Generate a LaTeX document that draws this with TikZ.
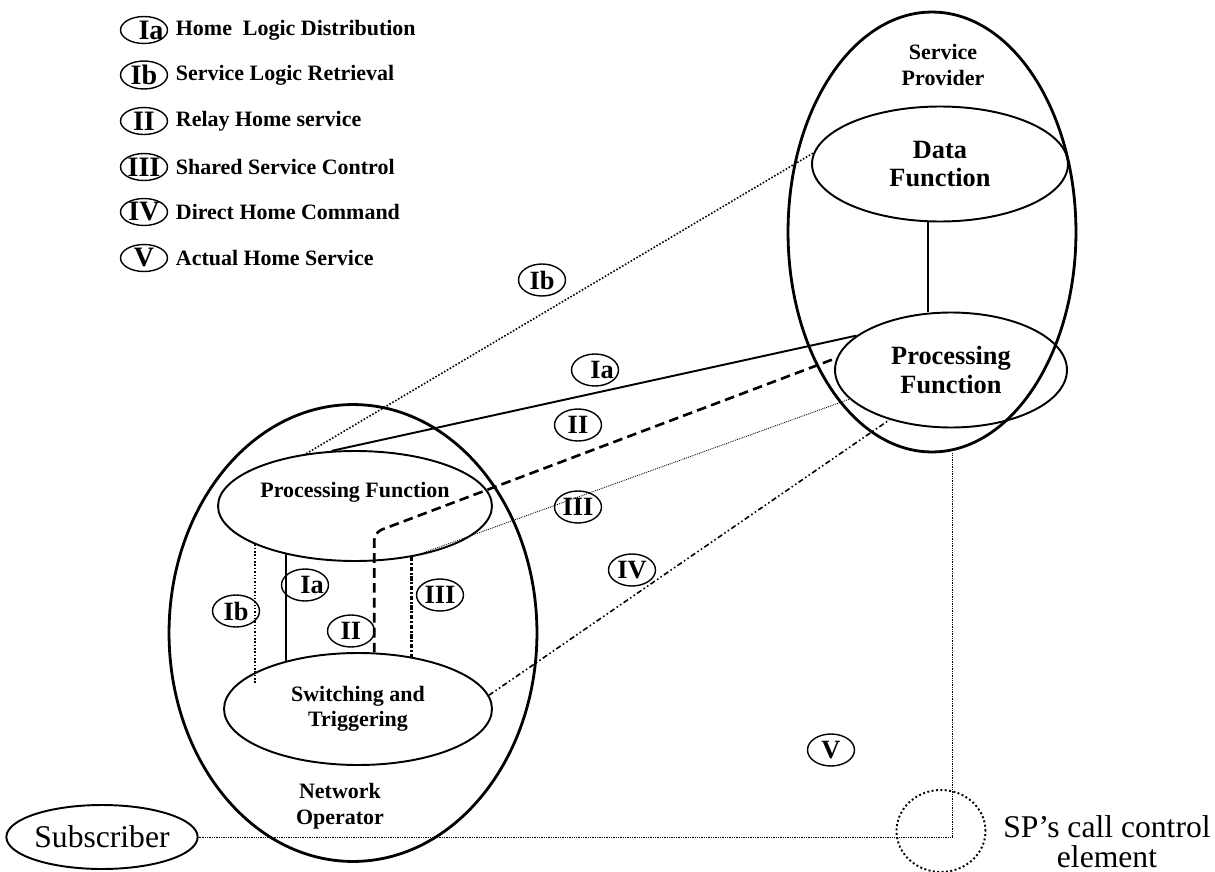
\documentclass[tikz,border=0pt]{standalone}
\usepackage{fontspec}
\setmainfont{Liberation Serif}
\usetikzlibrary{shapes.geometric, positioning}

\begin{document}
\begin{tikzpicture}
    [x=0.02cm, y=-0.02cm, thick,
    party/.style={draw, ellipse, line width=1.6pt, inner sep=0pt},
    func/.style={draw, ellipse, line width=1.1pt, inner sep=0pt, align=center,
    font=\fontsize{12.5}{14.5}\selectfont\bfseries},
    heading/.style={align=center, font=\fontsize{12.5}{15}\selectfont\bfseries}]
    % Styles for the tags, the legend and the different relations
    \tikzstyle{lbl} = [draw, ellipse, line width=0.8pt, inner sep=0pt, minimum width=0.94cm,
    minimum height=0.64cm, font=\fontsize{15}{16}\selectfont\bfseries]
    \tikzstyle{legtag} = [lbl, minimum height=0.54cm, font=\fontsize{16}{16}\selectfont\bfseries]
    \tikzstyle{legtext} = [inner sep=0pt, font=\fontsize{12.5}{14}\selectfont\bfseries]
    \tikzstyle{home} = [line width=1.1pt]
    \tikzstyle{retrieve} = [line width=0.9pt, dash pattern=on 0.9pt off 1pt]
    \tikzstyle{relay} = [line width=1.5pt, dash pattern=on 5.5pt off 3pt]
    \tikzstyle{shared} = [line width=0.5pt, dash pattern=on 0.5pt off 0.6pt]
    \tikzstyle{sharedv} = [line width=1.5pt, dash pattern=on 2.5pt off 1pt on 1pt off 1pt]
    \tikzstyle{direct} = [line width=0.9pt, dash pattern=on 3pt off 1.5pt on 0.9pt off 1.5pt on 0.9pt off 1.5pt]
    \tikzstyle{actual} = [line width=0.5pt, dash pattern=on 0.5pt off 0.5pt]
    % the "Ia" tags sit a little right of centre
    \newcommand{\iatext}{\makebox[0pt]{\hspace{0.28cm}Ia}}

    \useasboundingbox (0,0) rectangle (1215,872);

    % Legend
    \node [legtag] (la) at (144,30) {\iatext};
    \node [legtext, right=0.14cm of la] (lat) {Home~~Logic Distribution};
    \node [legtag] (lb) at (144,75) {Ib};
    \node [legtext, right=0.14cm of lb] (lbt) {Service Logic Retrieval};
    \node [legtag] (lii) at (144,121) {II};
    \node [legtext, right=0.14cm of lii] (liit) {Relay Home service};
    \node [legtag] (liii) at (144,167) {III};
    \node [legtext, right=0.14cm of liii] (liiit) {Shared Service Control};
    \node [legtag] (liv) at (144,212) {IV};
    \node [legtext, right=0.14cm of liv] (livt) {Direct Home Command};
    \node [legtag] (lv) at (144,258) {V};
    \node [legtext, right=0.14cm of lv] (lvt) {Actual Home Service};

    % Service provider side
    \node [party, minimum width=5.76cm, minimum height=8.8cm] (sp) at (932,232) {};
    \node [heading] (sptitle) at (943,65) {Service\\Provider};
    \node [func, minimum width=5.12cm, minimum height=2.3cm,
    font=\fontsize{15}{16}\selectfont\bfseries] (df) at (940,164) {Data\\Function};
    \node [func, minimum width=4.64cm, minimum height=2.3cm,
    font=\fontsize{15}{16}\selectfont\bfseries] (pfsp) at (951,370) {Processing\\Function};

    % Network operator side
    \node [party, minimum width=7.36cm, minimum height=9.14cm] (no) at (353,633) {};
    \node [func, minimum width=5.48cm, minimum height=2.2cm,
    label={[yshift=0.28cm, font=\fontsize{12.5}{14}\selectfont\bfseries]center:Processing Function}] (nopf) at (355,506) {};
    \node [func, minimum width=5.36cm, minimum height=2.24cm] (sat) at (358,709) {Switching and\\Triggering};
    \node [heading] (notitle) at (340,806) {Network\\Operator};

    % Subscriber and call control element
    \node [draw, ellipse, line width=1.1pt, inner sep=0pt, minimum width=3.62cm, minimum height=1.28cm,
    font=\fontsize{18}{20}\selectfont] (sub) at (102,837) {Subscriber};
    \node [draw, ellipse, line width=1.1pt, dash pattern=on 1.1pt off 1.4pt,
    minimum width=1.78cm, minimum height=1.64cm] (cce) at (941,831) {};
    \node [align=center, font=\fontsize{18}{17}\selectfont] (ccetext) at (1107,842) {SP’s call control\\element};

    % Relations
    \draw [line width=1pt] (df.258) -- (df.258 |- pfsp.north);
    \draw [home] (nopf.113) -- (pfsp.160);
    \draw [home] (nopf.215) -- (nopf.215 |- sat.146);
    \draw [retrieve] (nopf.133) -- (df.175);
    \draw [retrieve] (nopf.201) -- ++(0,140);
    \draw [relay, rounded corners=0.16cm] (sat.74) -- ++(0,-120) -- (pfsp.174);
    \draw [sharedv] (nopf.318) -- (nopf.318 |- sat.45);
    \draw [shared] (nopf.318) -- (pfsp.196);
    \draw [direct] (sat.6) -- (pfsp.219);
    \draw [actual] (sp.south) ++(20,0) |- (sub.east);

    % Tags on the relations
    \node [lbl] (ibtag) at (542,280) {Ib};
    \node [lbl] (iatag) at (595,370) {\iatext};
    \node [lbl] (iitag) at (578,425) {II};
    \node [lbl] (iiitag) at (578,507) {III};
    \node [lbl] (ivtag) at (632,570) {IV};
    \node [lbl] (vtag) at (831,750) {V};
    \node [lbl] (ibin) at (236,611) {Ib};
    \node [lbl] (iain) at (305,585) {\iatext};
    \node [lbl] (iiin) at (351,631) {II};
    \node [lbl] (iiiin) at (440,595) {III};
\end{tikzpicture}
\end{document}
